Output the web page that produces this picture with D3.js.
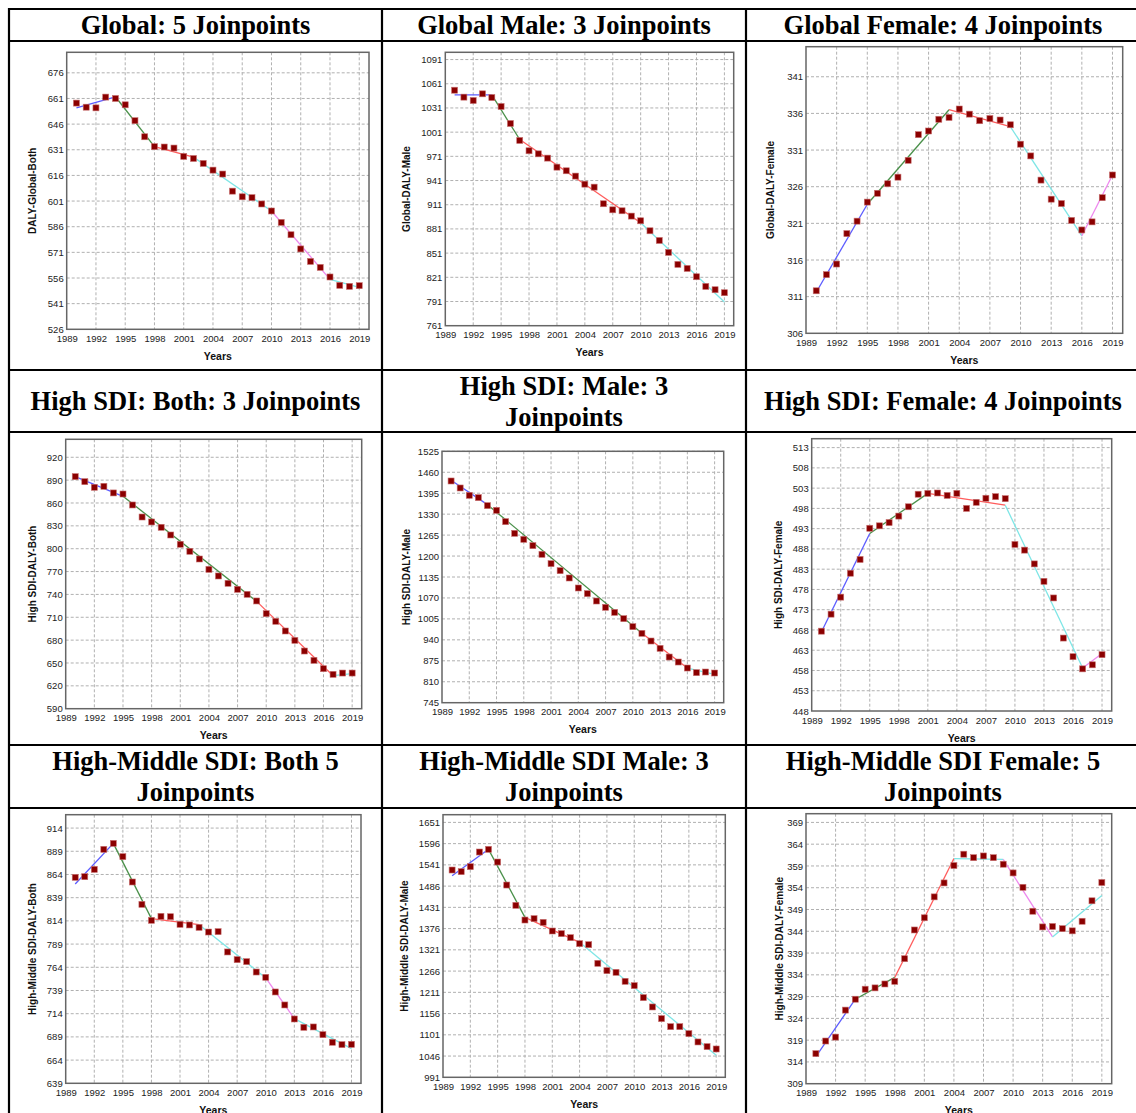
<!DOCTYPE html>
<html>
<head>
<meta charset="utf-8">
<script src="https://cdn.jsdelivr.net/npm/d3@7"></script>
<style>
  body { margin: 0; background: #fff; }
  .tick text { font-family: "Liberation Sans", Arial, sans-serif; font-size: 9.5px; fill: #222; }
</style>
</head>
<body>
<div id="content"></div>
<script>
// Years on the x axis and the tick labels
const years = [1990, 1991, 1992, 1993, 1994, 1995, 1996, 1997, 1998, 1999, 2000, 2001, 2002, 2003, 2004,
  2005, 2006, 2007, 2008, 2009, 2010, 2011, 2012, 2013, 2014, 2015, 2016, 2017, 2018, 2019];
const yearTicks = [1989, 1992, 1995, 1998, 2001, 2004, 2007, 2010, 2013, 2016, 2019];

// Observed DALY rates
const globalBoth = [658.3, 655.9, 655.5, 661.8, 661.0, 657.3, 648.0, 638.6, 632.8, 632.6, 632.0, 627.1, 625.9, 623.0, 619.1,
  616.8, 606.8, 603.5, 603.0, 599.3, 595.2, 588.5, 581.3, 573.0, 565.7, 562.2, 556.6, 551.7, 551.1, 551.5];
const globalMale = [1053, 1044.4, 1040.2, 1048.5, 1043.9, 1032.8, 1011.7, 990.7, 977.9, 974.1, 968.8, 957.6, 953.1, 946.5, 936.5,
  932.8, 912.2, 904.7, 903.5, 896.9, 891.1, 878.7, 866.7, 851.9, 837.0, 832.0, 821.7, 809.7, 805.6, 801.9];
const globalFemale = [311.8, 314.0, 315.45, 319.6, 321.3, 323.9, 325.1, 326.4, 327.3, 329.6, 333.1, 333.6, 335.2, 335.45, 336.6,
  335.9, 335.0, 335.3, 335.1, 334.45, 331.8, 330.2, 326.9, 324.3, 323.7, 321.4, 320.1, 321.2, 324.5, 327.6];
const highBoth = [894.6, 888.0, 880.6, 881.9, 873.2, 871.8, 857.4, 841.6, 835.1, 828.1, 818.0, 805.8, 796.6, 786.5, 772.9,
  764.2, 754.6, 746.7, 740.1, 731.4, 714.7, 704.7, 692.0, 679.7, 665.7, 653.5, 642.5, 635.1, 636.8, 636.8];
const highMale = [1432.9, 1411.2, 1388.4, 1381.2, 1356.4, 1341.9, 1306.7, 1270.5, 1251.9, 1232.2, 1205.3, 1176.4, 1154.6, 1131.9, 1100.9,
  1083.3, 1060.5, 1040.9, 1025.3, 1005.7, 980.9, 960.2, 936.4, 913.6, 886.7, 871.2, 852.6, 838.1, 840.2, 837.1];
const highFemale = [467.7, 471.9, 476.1, 482.0, 485.4, 493.1, 493.7, 494.5, 496.1, 498.4, 501.5, 501.7, 501.8, 501.2, 501.7,
  498.0, 499.5, 500.5, 500.9, 500.4, 489.1, 487.7, 484.3, 480.0, 475.9, 466.0, 461.4, 458.4, 459.4, 461.9];
const hmBoth = [860.9, 861.6, 869.5, 891.1, 897.5, 883.2, 855.9, 831.8, 814.6, 818.9, 818.5, 810.3, 809.6, 807.0, 802.0,
  802.4, 780.5, 772.2, 770.1, 758.9, 753.2, 737.4, 723.4, 708.3, 699.3, 699.7, 691.4, 683.2, 680.7, 681.0];
const hmMale = [1527.7, 1523.4, 1536.3, 1574.3, 1581.2, 1548.4, 1488.8, 1436.2, 1398.2, 1401.7, 1392.2, 1369.8, 1362.9, 1352.5, 1337.0,
  1334.4, 1286.1, 1267.1, 1262.8, 1239.5, 1228.3, 1197.2, 1173.1, 1142.9, 1122.1, 1122.1, 1104.0, 1082.5, 1070.4, 1064.3];
const hmFemale = [315.9, 318.8, 319.7, 325.9, 328.4, 330.7, 331.0, 331.9, 332.5, 337.7, 344.3, 347.1, 351.9, 355.1, 359.1,
  361.7, 360.9, 361.3, 360.9, 359.4, 357.4, 354.1, 348.6, 345.0, 345.1, 344.6, 344.1, 346.3, 351.0, 355.2];

// Joinpoint fitted values at the segment ends: [year, value]
const globalBothFit = [[1990, 655.5], [1994, 662.0], [1998, 632.8], [2002, 626.7], [2010, 595.2], [2016, 555.2], [2019, 550.5]];
const globalMaleFit = [[1990, 1047.2], [1994, 1047.2], [1997, 991.9], [2010, 888.6], [2019, 790.3]];
const globalFemaleFit = [[1990, 311.6], [1995, 323.6], [2003, 336.5], [2009, 334.2], [2016, 319.3], [2019, 327.6]];
const highBothFit = [[1990, 894.6], [1995, 868.8], [2009, 730.9], [2017, 633.3], [2019, 636.0]];
const highMaleFit = [[1990, 1435.0], [1994, 1359.5], [2011, 960.2], [2016, 852.6], [2019, 832.9]];
const highFemaleFit = [[1990, 467.5], [1995, 491.8], [2001, 501.7], [2009, 498.8], [2017, 458.6], [2019, 462.2]];
const hmBothFit = [[1990, 853.7], [1994, 897.5], [1998, 816.4], [2003, 809.9], [2010, 752.5], [2013, 708.7], [2019, 676.3]];
const hmMaleFit = [[1990, 1513.0], [1994, 1581.2], [1998, 1405.2], [2004, 1340.4], [2019, 1048.0]];
const hmFemaleFit = [[1990, 315.2], [1994, 328.4], [1998, 333.4], [2004, 360.7], [2009, 360.5], [2014, 342.7], [2019, 352.2]];

// y tick labels of each plot
const globalBothTicks = [526, 541, 556, 571, 586, 601, 616, 631, 646, 661, 676];
const globalMaleTicks = [761, 791, 821, 851, 881, 911, 941, 971, 1001, 1031, 1061, 1091];
const globalFemaleTicks = [306, 311, 316, 321, 326, 331, 336, 341];
const highBothTicks = [590, 620, 650, 680, 710, 740, 770, 800, 830, 860, 890, 920];
const highMaleTicks = [745, 810, 875, 940, 1005, 1070, 1135, 1200, 1265, 1330, 1395, 1460, 1525];
const highFemaleTicks = [448, 453, 458, 463, 468, 473, 478, 483, 488, 493, 498, 503, 508, 513];
const hmBothTicks = [639, 664, 689, 714, 739, 764, 789, 814, 839, 864, 889, 914];
const hmMaleTicks = [991, 1046, 1101, 1156, 1211, 1266, 1321, 1376, 1431, 1486, 1541, 1596, 1651];
const hmFemaleTicks = [309, 314, 319, 324, 329, 334, 339, 344, 349, 354, 359, 364, 369];

// y axis upper ends (the axis starts at the first tick)
const yTops = [688, 1100, 345.1, 943.6, 1525, 515.2, 928.4, 1670.9, 371];

const titles = [
  ['Global: 5 Joinpoints'], ['Global Male: 3 Joinpoints'], ['Global Female: 4 Joinpoints'],
  ['High SDI: Both: 3 Joinpoints'], ['High SDI: Male: 3', 'Joinpoints'], ['High SDI: Female: 4 Joinpoints'],
  ['High-Middle SDI: Both 5', 'Joinpoints'], ['High-Middle SDI Male: 3', 'Joinpoints'], ['High-Middle SDI Female: 5', 'Joinpoints']
];
const yLabels = ['DALY-Global-Both', 'Global-DALY-Male', 'Global-DALY-Female',
  'High SDI-DALY-Both', 'High SDI-DALY-Male', 'High SDI-DALY-Female',
  'High-Middle SDI-DALY-Both', 'High-Middle SDI-DALY-Male', 'High-Middle SDI-DALY-Female'];

const panels = [
  {values: globalBoth, fit: globalBothFit, ticks: globalBothTicks},
  {values: globalMale, fit: globalMaleFit, ticks: globalMaleTicks},
  {values: globalFemale, fit: globalFemaleFit, ticks: globalFemaleTicks},
  {values: highBoth, fit: highBothFit, ticks: highBothTicks},
  {values: highMale, fit: highMaleFit, ticks: highMaleTicks},
  {values: highFemale, fit: highFemaleFit, ticks: highFemaleTicks},
  {values: hmBoth, fit: hmBothFit, ticks: hmBothTicks},
  {values: hmMale, fit: hmMaleFit, ticks: hmMaleTicks},
  {values: hmFemale, fit: hmFemaleFit, ticks: hmFemaleTicks}
];

// Layout: plot frames [left, top, right, bottom, y label offset]
const frames = [
  [66.7, 52.3, 369, 329.3, 34], [445.3, 52.3, 733.7, 325.7, 39], [806, 46.7, 1122.7, 333.3, 36],
  [65.7, 439.3, 361.7, 708.7, 33.5], [442, 451.3, 723.7, 702.7, 36], [811.7, 438.7, 1111.7, 711, 33.5],
  [65.7, 814.7, 361, 1083.3, 33.5], [443, 814.7, 725.3, 1077.3, 38.5], [806, 813.7, 1111.7, 1083.7, 27]
];
const colX = [9, 382, 746, 1140];
const rowY = [9, 41, 370, 432, 745, 808, 1125];
const segColors = ['#5c5cff', '#4a904a', '#ff5c5c', '#7ee6e6', '#ee88ee', '#7ee6e6'];

let svg = d3.select('#content')
            .append('svg')
            .attr('width', 1136)
            .attr('height', 1113)
            .style('display', 'block');

// Table grid
rowY.forEach((y) => {
  svg.append('line').attr('x1', colX[0] - 1).attr('x2', colX[3]).attr('y1', y).attr('y2', y)
     .attr('stroke', '#000').attr('stroke-width', 2.2);
});
colX.forEach((x) => {
  svg.append('line').attr('x1', x).attr('x2', x).attr('y1', rowY[0] - 1).attr('y2', rowY[6])
     .attr('stroke', '#000').attr('stroke-width', 2.2);
});

// Titles
titles.forEach((lines, i) => {
  let c = i % 3, r = Math.floor(i / 3);
  let cx = (colX[c] + colX[c + 1]) / 2;
  let top = rowY[r * 2], bottom = rowY[r * 2 + 1];
  let mid = (top + bottom) / 2;
  let lh = 31;
  lines.forEach((t, j) => {
    let cy = mid + (j - (lines.length - 1) / 2) * lh;
    svg.append('text')
       .attr('x', cx)
       .attr('y', cy + 9)
       .attr('text-anchor', 'middle')
       .style('font-family', '"Liberation Serif", "Times New Roman", serif')
       .style('font-weight', 'bold')
       .style('font-size', '26.5px')
       .text(t);
  });
});

// Plots
panels.forEach((p, i) => {
  let [left, top, right, bottom, labOff] = frames[i];
  let g = svg.append('g');

  let x = d3.scaleLinear().domain([1989, 2020]).range([left, right]);
  let y = d3.scaleLinear().domain([p.ticks[0], yTops[i]]).range([bottom, top]);

  // Grid
  g.selectAll('.hgrid')
   .data(p.ticks.slice(1))
   .enter()
   .append('line')
   .attr('x1', left).attr('x2', right)
   .attr('y1', (d) => y(d)).attr('y2', (d) => y(d))
   .attr('stroke', '#b0b0b0').attr('stroke-dasharray', '3,2');
  g.selectAll('.vgrid')
   .data(yearTicks.slice(1))
   .enter()
   .append('line')
   .attr('y1', top).attr('y2', bottom)
   .attr('x1', (d) => x(d)).attr('x2', (d) => x(d))
   .attr('stroke', '#b0b0b0').attr('stroke-dasharray', '3,2');

  // Axes
  let ya = g.append('g')
            .attr('transform', 'translate(' + left + ',0)')
            .call(d3.axisLeft(y).tickValues(p.ticks).tickSize(0).tickPadding(3).tickFormat(d3.format('d')));
  ya.select('.domain').remove();
  let xa = g.append('g')
            .attr('transform', 'translate(0,' + bottom + ')')
            .call(d3.axisBottom(x).tickValues(yearTicks).tickSize(0).tickPadding(6).tickFormat(d3.format('d')));
  xa.select('.domain').remove();

  // Frame
  g.append('rect')
   .attr('x', left).attr('y', top)
   .attr('width', right - left).attr('height', bottom - top)
   .attr('fill', 'none').attr('stroke', '#666').attr('stroke-width', 1.5);

  // Axis titles
  g.append('text')
   .attr('transform', 'translate(' + (left - labOff) + ',' + ((top + bottom) / 2) + ') rotate(-90)')
   .attr('text-anchor', 'middle')
   .attr('dy', '0.35em')
   .style('font-family', '"Liberation Sans", Arial, sans-serif')
   .style('font-weight', 'bold')
   .style('font-size', '10px')
   .style('fill', '#111')
   .text(yLabels[i]);
  g.append('text')
   .attr('x', (left + right) / 2)
   .attr('y', bottom + 27)
   .attr('text-anchor', 'middle')
   .attr('dy', '0.35em')
   .style('font-family', '"Liberation Sans", Arial, sans-serif')
   .style('font-weight', 'bold')
   .style('font-size', '10.5px')
   .style('fill', '#111')
   .text('Years');

  // Joinpoint segments
  let segs = d3.pairs(p.fit);
  g.selectAll('.seg')
   .data(segs)
   .enter()
   .append('line')
   .attr('x1', (d) => x(d[0][0])).attr('y1', (d) => y(d[0][1]))
   .attr('x2', (d) => x(d[1][0])).attr('y2', (d) => y(d[1][1]))
   .attr('stroke', (d, k) => segColors[k])
   .attr('stroke-width', 1.3);

  // Observed points
  g.selectAll('.pt')
   .data(p.values)
   .enter()
   .append('rect')
   .attr('x', (d, k) => x(years[k]) - 3)
   .attr('y', (d) => y(d) - 3)
   .attr('width', 6).attr('height', 6)
   .attr('fill', '#8b0000')
   .attr('stroke', '#c87070')
   .attr('stroke-width', 0.6);
});
</script>
</body>
</html>
